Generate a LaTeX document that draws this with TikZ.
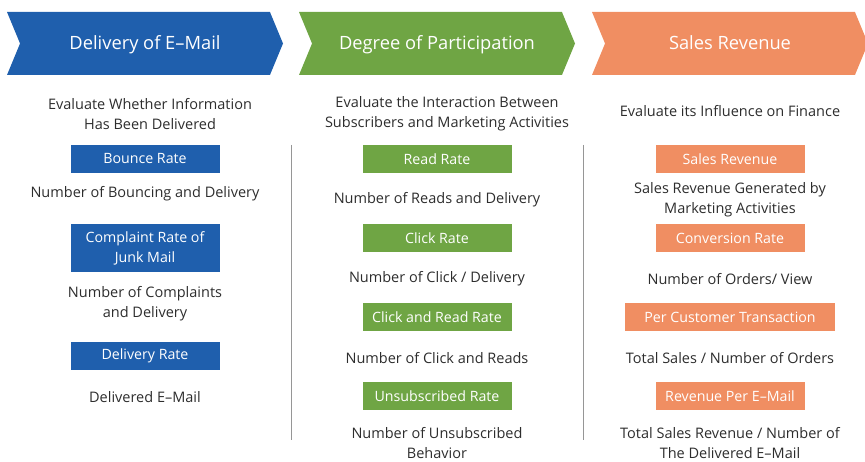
\documentclass[tikz,border=0pt]{standalone}
\usepackage{fontspec}
\setmainfont{Open Sans}
\usetikzlibrary{shapes.symbols}
\definecolor{mailblue}{RGB}{31,95,173}
\definecolor{partgreen}{RGB}{111,165,68}
\definecolor{salesorange}{RGB}{240,142,98}
\definecolor{notegray}{RGB}{45,45,45}
\definecolor{rulegray}{RGB}{150,150,150}
\begin{document}
\begin{tikzpicture}[x=1pt, y=-1pt,
  banner/.style={signal, signal to=east, signal from=west,
                 signal pointer angle=135, minimum width=276pt,
                 minimum height=63pt, inner sep=0pt, text=white,
                 text height=13pt, text depth=0pt,
                 font=\fontsize{18.3}{20}\selectfont},
  metric/.style={minimum width=149pt, minimum height=28pt, inner sep=0pt,
                 align=center, text=white, font=\fontsize{14.2}{20}\selectfont},
  note/.style={align=center, inner sep=1pt, text=notegray,
               font=\fontsize{14.5}{20}\selectfont},
  sep/.style={draw=rulegray, line width=0.8pt}
]
  \useasboundingbox (0,0) rectangle (865,462);

  % headers
  \node[banner, fill=mailblue] (hmail) at (145,43.5) {Delivery of E--Mail};
  \node[banner, fill=partgreen] (hpart) at (437,43.5) {Degree of Participation};
  \node[banner, fill=salesorange] (hsales) at (730,43.5) {Sales Revenue};

  % column 1
  \node[note] (eval1) at (150,114) {Evaluate Whether Information\\Has Been Delivered};
  \node[metric, fill=mailblue] (bounce) at (145,159) {Bounce Rate};
  \node[note] (nbounce) at (145,194) {Number of Bouncing and Delivery};
  \node[metric, fill=mailblue, minimum height=48pt] (complaint) at (145,248)
    {Complaint Rate of\\Junk Mail};
  \node[note] (ncomplaint) at (145,304) {Number of Complaints\\and Delivery};
  \node[metric, fill=mailblue] (delivery) at (145,356) {Delivery Rate};
  \node[note] (ndelivery) at (145,397) {Delivered E--Mail};

  % column 2
  \node[note] (eval2) at (447,114) {Evaluate the Interaction Between\\Subscribers and Marketing Activities};
  \node[metric, fill=partgreen] (read) at (437,159) {Read Rate};
  \node[note] (nread) at (437,200) {Number of Reads and Delivery};
  \node[metric, fill=partgreen] (click) at (437,238) {Click Rate};
  \node[note] (nclick) at (437,279) {Number of Click / Delivery};
  \node[metric, fill=partgreen] (clickread) at (437,317) {Click and Read Rate};
  \node[note] (nclickread) at (437,358) {Number of Click and Reads};
  \node[metric, fill=partgreen] (unsub) at (437,396) {Unsubscribed Rate};
  \node[note] (nunsub) at (437,443) {Number of Unsubscribed\\Behavior};

  % column 3
  \node[note] (eval3) at (730,111) {Evaluate its Influence on Finance};
  \node[metric, fill=salesorange] (revenue) at (730,159) {Sales Revenue};
  \node[note] (nrevenue) at (730,200) {Sales Revenue Generated by\\Marketing Activities};
  \node[metric, fill=salesorange] (conversion) at (730,238) {Conversion Rate};
  \node[note] (nconversion) at (730,279) {Number of Orders/ View};
  \node[metric, fill=salesorange, minimum width=210pt] (percust) at (730,317) {Per Customer Transaction};
  \node[note] (npercust) at (730,358) {Total Sales / Number of Orders};
  \node[metric, fill=salesorange] (permail) at (730,396) {Revenue Per E--Mail};
  \node[note] (npermail) at (730,443) {Total Sales Revenue / Number of\\The Delivered E--Mail};

  % separators
  \draw[sep] (291,145) -- (291,440);
  \draw[sep] (583,145) -- (583,440);
\end{tikzpicture}
\end{document}
